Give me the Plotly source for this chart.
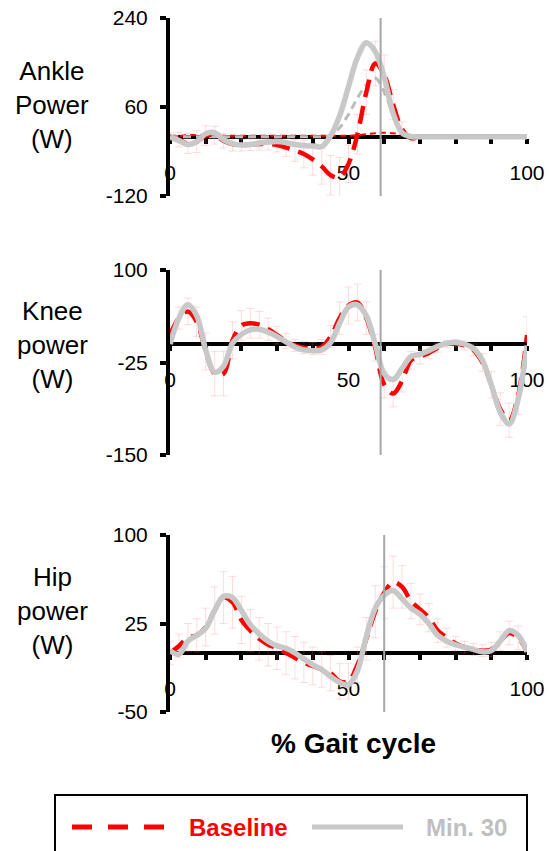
import plotly.graph_objects as go

# ---------------- data ----------------
gait_pct = [0, 2.5, 5, 7.5, 10, 12.5, 15, 17.5, 20, 22.5, 25, 27.5, 30, 32.5, 35, 37.5,
            40, 42.5, 45, 47.5, 50, 52.5, 55, 57.5, 60, 62.5, 65, 67.5, 70, 72.5, 75,
            77.5, 80, 82.5, 85, 87.5, 90, 92.5, 95, 97.5, 100]

ankle_baseline = [0, -6, -14, -10, 2, 3, -8, -15, -17, -16, -15, -15, -17, -22, -28, -35,
                  -46, -60, -78, -82, -55, 5, 90, 148, 125, 65, 15, -3, 0, 0, 0,
                  0, 0, 0, 0, 0, 0, 0, 0, 0, 0]
ankle_baseline_sd = [8, 15, 20, 22, 20, 18, 15, 14, 12, 12, 12, 12, 14, 18, 22, 28,
                     32, 36, 40, 40, 38, 40, 45, 45, 40, 30, 15, 6, 4, 4, 4,
                     4, 4, 4, 4, 4, 4, 4, 4, 4, 4]
ankle_min30 = [0, -8, -16, -10, 6, 8, -6, -14, -17, -16, -13, -11, -10, -12, -16, -18,
               -19, -20, 2, 42, 101, 160, 190, 172, 120, 47, 8, 0, 0, 0, 0,
               0, 0, 0, 0, 0, 0, 0, 0, 0, 0]
ankle_extra_gray = [0, 0, 0, 0, 0, 0, 0, 0, 0, 0, 0, 0, 0, 0, 0, 0,
                    0, 0, 3, 18, 45, 78, 105, 118, 90, 45, 10, 2, 0, 0, 0,
                    0, 0, 0, 0, 0, 0, 0, 0, 0, 0]
ankle_extra_red = [2, 2, 3, 3, 2, 2, 2, 2, 2, 2, 2, 2, 2, 2, 2, 2,
                   2, 2, 2, 2, 2, 3, 5, 7, 8, 7, 4, 2, 2, 2, 2,
                   2, 2, 2, 2, 2, 2, 2, 2, 2, 2]

knee_baseline = [12, 35, 44, 30, -10, -40, -40, 5, 25, 28, 26, 20, 12, 4, -2, -5,
                 -6, -4, 10, 35, 52, 56, 35, -5, -55, -67, -50, -22, -17, -12, -5,
                 0, 1, -2, -8, -25, -55, -88, -103, -70, 12]
knee_baseline_sd = [12, 15, 18, 20, 25, 30, 30, 25, 20, 20, 18, 15, 12, 10, 8, 8,
                    8, 10, 15, 22, 25, 25, 22, 18, 18, 18, 15, 12, 10, 8, 6,
                    5, 5, 6, 8, 12, 18, 22, 23, 25, 25]
knee_min30 = [0, 35, 53, 38, -8, -38, -30, 1, 13, 19, 20, 16, 10, 3, -4, -8,
              -9, -8, 2, 28, 50, 53, 38, 0, -40, -48, -33, -17, -14, -9, -3,
              1, 2, 0, -6, -22, -55, -92, -108, -75, -2]

hip_baseline = [0, 6, 13, 15, 22, 36, 47, 43, 28, 19, 12, 7, 4, 0, -4, -8,
                -11, -14, -17, -24, -24, -10, 12, 35, 51, 60, 56, 44, 37, 30, 19,
                13, 8, 5, 3, 2, 3, 10, 17, 13, 1]
hip_baseline_sd = [10, 10, 12, 14, 16, 20, 22, 22, 20, 18, 18, 18, 18, 18, 18, 17,
                   16, 15, 15, 15, 15, 15, 18, 22, 22, 22, 18, 15, 13, 12, 10,
                   8, 6, 5, 5, 5, 6, 8, 10, 10, 8]
hip_min30 = [2, -1, 10, 15, 21, 36, 48, 47, 36, 24, 16, 10, 6, 4, 0, -5,
             -10, -14, -20, -25, -27, -15, 14, 38, 49, 53, 46, 38, 33, 25, 15,
             10, 7, 5, 3, 1, 2, 10, 19, 15, 1]

ankle_ticks = [-120, 60, 240]
knee_ticks = [-150, -25, 100]
hip_ticks = [-50, 25, 100]
x_ticks = [0, 50, 100]
x_minor_ticks = [10, 20, 30, 40, 60, 70, 80, 90]
stance_end = [59, 59, 60]

panel_labels = ["Ankle<br>Power<br>(W)", "Knee<br>power<br>(W)", "Hip<br>power<br>(W)"]
series_names = ["Baseline", "Min. 30"]

# ---------------- layout helpers ----------------
W, H = 549, 851
FONT = "Arial, Liberation Sans, sans-serif"


def py(px):
    return 1 - px / H


def pxx(px):
    return px / W


xdom = [pxx(170), pxx(527)]
panels = [
    dict(top=18, bot=196, rng=[-120, 240], ticks=ankle_ticks, base=ankle_baseline,
         sd=ankle_baseline_sd, mn=ankle_min30, labely=105),
    dict(top=270, bot=455, rng=[-150, 100], ticks=knee_ticks, base=knee_baseline,
         sd=knee_baseline_sd, mn=knee_min30, labely=345),
    dict(top=535, bot=712, rng=[-50, 100], ticks=hip_ticks, base=hip_baseline,
         sd=hip_baseline_sd, mn=hip_min30, labely=611),
]

RED = "#ff0000"
GRAY = "#c8c8c8"
RED_DASH = "18px,9px"

fig = go.Figure()
layout = dict(
    width=W, height=H, margin=dict(l=0, r=0, t=0, b=0, autoexpand=False),
    paper_bgcolor="white", plot_bgcolor="rgba(0,0,0,0)",
    font=dict(family=FONT, color="black"),
    showlegend=False,
)
shapes = []
annotations = []

for i, p in enumerate(panels):
    xa = "x" if i == 0 else f"x{i + 1}"
    ya = "y" if i == 0 else f"y{i + 1}"
    xkey = "xaxis" if i == 0 else f"xaxis{i + 1}"
    ykey = "yaxis" if i == 0 else f"yaxis{i + 1}"
    d0, d1 = py(p["bot"]), py(p["top"])
    r0, r1 = p["rng"]
    zero_pos = d0 + (0 - r0) / (r1 - r0) * (d1 - d0)

    if i == 0:
        fig.add_trace(go.Scatter(
            x=gait_pct, y=ankle_extra_red, xaxis=xa, yaxis=ya, mode="lines",
            line=dict(color=RED, width=2, dash="6px,4px", shape="spline"),
            showlegend=False, hoverinfo="skip"))
        fig.add_trace(go.Scatter(
            x=gait_pct, y=ankle_extra_gray, xaxis=xa, yaxis=ya, mode="lines",
            line=dict(color="#bdbdbd", width=3, dash="8px,5px", shape="spline"),
            showlegend=False, hoverinfo="skip"))

    fig.add_trace(go.Scatter(
        x=gait_pct, y=p["base"], xaxis=xa, yaxis=ya, mode="lines",
        name=series_names[0],
        line=dict(color=RED, width=4.5, dash=RED_DASH, shape="spline", smoothing=1),
        error_y=dict(type="data", array=p["sd"], color="rgba(255,120,120,0.26)",
                     thickness=1, width=4)))
    fig.add_trace(go.Scatter(
        x=gait_pct, y=p["mn"], xaxis=xa, yaxis=ya, mode="lines",
        name=series_names[1],
        line=dict(color=GRAY, width=5.5, shape="spline", smoothing=1)))

    layout[xkey] = dict(
        domain=xdom, range=[0, 100], anchor="free", position=zero_pos,
        showline=True, linewidth=4, linecolor="black",
        ticks="outside", ticklen=5, tickwidth=4, tickcolor="black",
        tickmode="array", tickvals=x_ticks, ticktext=[str(v) for v in x_ticks],
        tickfont=dict(size=21, family=FONT, color="black"),
        ticklabelstandoff=11,
        minor=dict(tickmode="array", tickvals=x_minor_ticks, ticks="outside",
                   ticklen=5, tickwidth=4, tickcolor="black"),
        showgrid=False, zeroline=False, layer="below traces", fixedrange=True,
        automargin=False,
    )
    layout[ykey] = dict(
        domain=[d0, d1], range=p["rng"], anchor=xa,
        showline=True, linewidth=4, linecolor="black",
        ticks="outside", ticklen=6, tickwidth=4, tickcolor="black",
        tickmode="array", tickvals=p["ticks"], ticktext=[str(v) for v in p["ticks"]],
        tickfont=dict(size=21, family=FONT, color="black"),
        ticklabelstandoff=8,
        showgrid=False, zeroline=False, fixedrange=True, automargin=False,
    )
    shapes.append(dict(type="line", xref=xa, yref=f"{ya} domain",
                       x0=stance_end[i], x1=stance_end[i], y0=0, y1=1,
                       line=dict(color="#a6a6a6", width=2), layer="above"))
    annotations.append(dict(text=panel_labels[i], xref="paper", yref="paper",
                            x=pxx(52), y=py(p["labely"]), xanchor="center", yanchor="middle",
                            showarrow=False, align="center",
                            font=dict(size=26, family=FONT, color="black")))

annotations.append(dict(text="<b>% Gait cycle</b>", xref="paper", yref="paper",
                        x=pxx(353), y=py(743), xanchor="center", yanchor="middle",
                        showarrow=False, font=dict(size=28, family=FONT, color="black")))

# ---------------- legend (box cut by the page edge, as in the reference) ----------------
leg_y = py(827)
shapes.append(dict(type="rect", xref="paper", yref="paper",
                   x0=pxx(55), x1=pxx(527), y0=py(880), y1=py(795),
                   line=dict(color="black", width=2), fillcolor="rgba(0,0,0,0)"))
shapes.append(dict(type="line", xref="paper", yref="paper",
                   x0=pxx(72), x1=pxx(164), y0=leg_y, y1=leg_y,
                   line=dict(color=RED, width=5, dash="20px,16px")))
shapes.append(dict(type="line", xref="paper", yref="paper",
                   x0=pxx(312), x1=pxx(403), y0=leg_y, y1=leg_y,
                   line=dict(color=GRAY, width=5)))
annotations.append(dict(text="<b>" + series_names[0] + "</b>", xref="paper", yref="paper",
                        x=pxx(187), y=leg_y, xanchor="left", yanchor="middle",
                        showarrow=False, font=dict(size=24, family=FONT, color=RED)))
annotations.append(dict(text="<b>" + series_names[1] + "</b>", xref="paper", yref="paper",
                        x=pxx(424), y=leg_y, xanchor="left", yanchor="middle",
                        showarrow=False, font=dict(size=24, family=FONT, color="#bfbfbf")))

layout["shapes"] = shapes
layout["annotations"] = annotations
fig.update_layout(**layout)
fig.write_html("out.html")
